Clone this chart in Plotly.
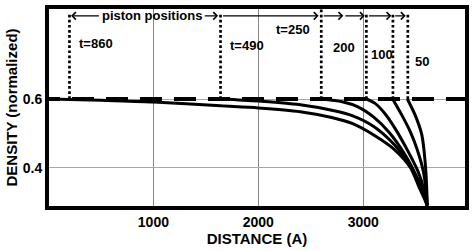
import plotly.graph_objects as go

# ---- data ----
x_t860 = [0, 500, 1000, 1640, 2000, 2400, 2700, 2900, 3100, 3300, 3450, 3530, 3590, 3610]
y_t860 = [0.600, 0.596, 0.591, 0.580, 0.574, 0.563, 0.546, 0.528, 0.495, 0.452, 0.400, 0.345, 0.305, 0.29]

x_t490 = [1640, 2000, 2400, 2700, 2900, 3100, 3300, 3450, 3540, 3595, 3610]
y_t490 = [0.600, 0.594, 0.583, 0.567, 0.551, 0.520, 0.466, 0.405, 0.350, 0.305, 0.29]

x_t250 = [2600, 2800, 2950, 3100, 3250, 3400, 3500, 3570, 3610]
y_t250 = [0.600, 0.592, 0.577, 0.547, 0.502, 0.437, 0.380, 0.330, 0.29]

x_t200 = [3030, 3110, 3200, 3300, 3430, 3525, 3580, 3610]
y_t200 = [0.600, 0.588, 0.560, 0.516, 0.446, 0.387, 0.335, 0.29]

x_t100 = [3280, 3368, 3448, 3511, 3574, 3600, 3610]
y_t100 = [0.600, 0.553, 0.505, 0.456, 0.388, 0.330, 0.29]

x_t50 = [3420, 3495, 3559, 3590, 3605, 3610]
y_t50 = [0.600, 0.553, 0.495, 0.417, 0.340, 0.29]

curves = [(x_t860, y_t860), (x_t490, y_t490), (x_t250, y_t250),
          (x_t200, y_t200), (x_t100, y_t100), (x_t50, y_t50)]

initial_density = 0.6
piston_x = [200, 1640, 2600, 3030, 3283, 3425]
piston_top = [0.850, 0.850, 0.862, 0.850, 0.850, 0.850]

time_labels = ["t=860", "t=490", "t=250", "200", "100", "50"]
label_x = [276, 1714, 2514, 2695, 3057, 3476]
label_y = [0.763, 0.757, 0.801, 0.751, 0.731, 0.708]
label_anchor = ["left", "left", "right", "left", "left", "left"]

arrow_tails = [495, 1475, 1650, 2610, 2815, 3040, 3290]
arrow_heads = [215, 1617, 2575, 2810, 3015, 3268, 3405]
arrow_y = 0.842

x_ticks = [1000, 2000, 3000]
y_ticks = [0.4, 0.6]
y_ticktext = ["0.4", "0.6"]

FONT = "Liberation Sans, Arial, sans-serif"

fig = go.Figure()

# dashed initial density level
fig.add_trace(go.Scatter(x=[-100, 4100], y=[initial_density, initial_density], mode="lines",
                         line=dict(color="black", width=4, dash="22px,12px"),
                         hoverinfo="skip", showlegend=False))

# dotted piston position lines
for px, top in zip(piston_x, piston_top):
    fig.add_trace(go.Scatter(x=[px, px], y=[initial_density, top], mode="lines",
                             line=dict(color="black", width=2.7, dash="2.7px,2.4px"),
                             hoverinfo="skip", showlegend=False))

# density profiles
for xs, ys in curves:
    fig.add_trace(go.Scatter(x=xs, y=ys, mode="lines",
                             line=dict(color="black", width=3, shape="spline", smoothing=0.8),
                             showlegend=False))

annotations = []
for t, lx, ly, anc in zip(time_labels, label_x, label_y, label_anchor):
    annotations.append(dict(x=lx, y=ly, text=t, showarrow=False, xanchor=anc, yanchor="middle",
                            font=dict(family=FONT, size=13, color="black", weight="bold")))

annotations.append(dict(x=988, y=arrow_y, text="piston positions", showarrow=False,
                        xanchor="center", yanchor="middle",
                        font=dict(family=FONT, size=13, color="black", weight="bold")))

for tail, head in zip(arrow_tails, arrow_heads):
    annotations.append(dict(x=head, y=arrow_y, ax=tail, ay=arrow_y, axref="x", ayref="y",
                            xref="x", yref="y", text="", showarrow=True, arrowhead=4,
                            arrowsize=1.1, arrowwidth=1.3, arrowcolor="black", standoff=0))

fig.update_layout(
    width=474, height=251,
    margin=dict(l=49, r=9, t=9, b=45, autoexpand=False),
    paper_bgcolor="white", plot_bgcolor="white",
    font=dict(family=FONT, color="black"),
    annotations=annotations,
    xaxis=dict(range=[5, 3970], tickvals=x_ticks, showgrid=True, gridcolor="#858585", gridwidth=1,
               zeroline=False, showline=True, linewidth=4, linecolor="black", mirror=True,
               automargin=False,
               ticks="", tickfont=dict(family=FONT, size=14, color="black", weight="bold"),
               title=dict(text="DISTANCE (A)", standoff=4,
                          font=dict(family=FONT, size=15, color="black", weight="bold"))),
    yaxis=dict(range=[0.2885, 0.862], tickvals=y_ticks, ticktext=y_ticktext, showgrid=True,
               gridcolor="#a8a8a8", gridwidth=1, zeroline=False, showline=True, linewidth=4,
               linecolor="black", mirror=True, automargin=False, ticks="",
               tickfont=dict(family=FONT, size=14, color="black", weight="bold"),
               title=dict(text="DENSITY (normalized)", standoff=2,
                          font=dict(family=FONT, size=15, color="black", weight="bold"))),
)

fig.write_html("out.html", config={"displayModeBar": False},
               post_script="document.body.style.margin='0';document.body.style.overflow='hidden';")
